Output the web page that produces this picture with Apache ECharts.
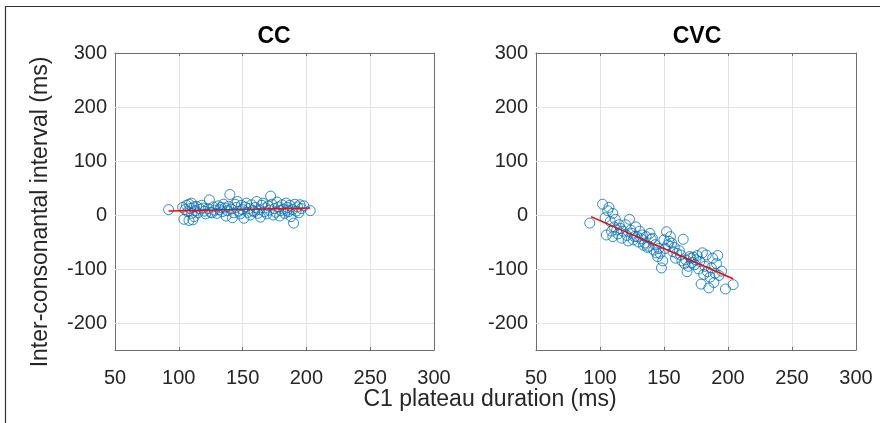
<!DOCTYPE html>
<html>
<head>
<meta charset="utf-8">
<script src="https://cdn.jsdelivr.net/npm/echarts@6/dist/echarts.min.js"></script>
<style>
html,body{margin:0;padding:0;background:#fff;}
#chart{width:880px;height:423px;}
</style>
</head>
<body>
<div id="chart"></div>
<script>
// ---- data ----
const panelTitles = ['CC', 'CVC'];
const xTicks = [50, 100, 150, 200, 250, 300];
const yTicks = [-200, -100, 0, 100, 200, 300];

const ccDuration = [92,103,104,106,107,108,109,110,110,111,112,113,115,117,118,120,121,123,124,125,127,128,130,131,132,134,135,136,137,138,139,140,141,142,143,144,145,146,147,148,149,150,151,152,153,154,155,156,157,158,160,161,162,163,164,165,166,167,168,169,170,171,172,173,174,175,176,177,178,179,180,181,182,183,184,185,186,187,188,189,190,191,192,193,195,196,198,203,105,108,112,114,119,126,133,159,185,194];
const ccInterval = [10,14,-8,18,6,-10,12,22,3,-9,15,8,4,11,18,7,2,12,28,5,15,9,3,17,10,6,20,13,-2,8,16,38,11,-5,4,20,14,25,7,2,18,10,-6,15,22,5,12,0,19,8,14,25,3,10,-4,18,22,6,13,2,17,9,35,20,0,12,5,24,15,-2,8,19,11,3,22,14,6,18,-3,10,-15,20,7,15,19,12,17,8,10,20,-3,16,13,4,14,6,9,4];

const cvcDuration = [92,102,104,105,106,107,108,109,110,110,111,112,113,114,115,116,117,118,120,121,122,123,124,125,126,127,128,129,130,131,132,133,134,135,136,137,138,139,140,141,142,143,144,145,146,147,148,149,150,151,152,153,154,155,156,157,158,159,160,162,163,164,165,166,167,168,169,170,171,172,173,174,175,176,177,178,179,180,181,182,183,184,185,186,187,188,189,190,191,192,193,195,198,204];
const cvcInterval = [-15,20,-5,-37,8,14,-12,-30,3,-40,-22,-8,-28,-35,-18,-25,-43,-30,-18,-38,-48,-8,-28,-34,-46,-40,-22,-40,-50,-30,-44,-37,-56,-52,-40,-60,-58,-34,-45,-43,-65,-55,-70,-77,-62,-71,-98,-85,-46,-62,-31,-55,-49,-40,-52,-68,-60,-80,-71,-66,-74,-85,-45,-90,-83,-105,-95,-77,-80,-88,-78,-92,-83,-75,-100,-86,-128,-70,-110,-95,-74,-105,-135,-115,-98,-80,-125,-108,-90,-75,-112,-104,-137,-129];

const ccFitX = [92, 203];
const ccFitY = [7.5, 13];
const cvcFitX = [93, 204];
const cvcFitY = [-3, -118];

// ---- build ----
const zip = (a, b) => a.map((v, i) => [v, b[i]]);
const FONT = '"Liberation Sans", Arial, Helvetica, sans-serif';
const TXT = '#262626';
const AX = '#6e6e6e';

const grids = [
  {left: 115, top: 53, width: 319, height: 297, show: false},
  {left: 536, top: 53, width: 320, height: 297, show: false}
];

const xAxes = [], yAxes = [];
[0, 1].forEach(g => {
  xAxes.push({
    type: 'value', gridIndex: g, min: 50, max: 300, interval: 50, position: 'bottom',
    axisLine: {show: true, onZero: false, lineStyle: {color: AX, width: 1}},
    axisTick: {show: true, inside: true, length: 3, lineStyle: {color: AX}},
    axisLabel: {color: TXT, fontSize: 20, fontFamily: FONT, margin: 18},
    splitLine: {show: true, lineStyle: {color: '#e3e3e3', width: 1}}
  });
  xAxes.push({
    type: 'value', gridIndex: g, min: 50, max: 300, interval: 50, position: 'top',
    axisLine: {show: true, onZero: false, lineStyle: {color: AX, width: 1}},
    axisTick: {show: true, inside: true, length: 3, lineStyle: {color: AX}},
    axisLabel: {show: false}, splitLine: {show: false}
  });
  yAxes.push({
    type: 'value', gridIndex: g, min: -250, max: 300, position: 'left',
    axisLine: {show: true, onZero: false, lineStyle: {color: AX, width: 1}},
    axisTick: {show: true, inside: true, length: 3, lineStyle: {color: AX}, customValues: yTicks},
    axisLabel: {color: TXT, fontSize: 20, fontFamily: FONT, margin: 8, customValues: yTicks},
    splitLine: {show: false}
  });
  yAxes.push({
    type: 'value', gridIndex: g, min: -250, max: 300, position: 'right',
    axisLine: {show: true, onZero: false, lineStyle: {color: AX, width: 1}},
    axisTick: {show: true, inside: true, length: 3, lineStyle: {color: AX}, customValues: yTicks},
    axisLabel: {show: false}, splitLine: {show: false}
  });
});

const hLines = yTicks.filter(v => v > -250 && v < 300).map(v => ({yAxis: v}));

function scatter(g, xs, ys) {
  return {
    type: 'scatter', xAxisIndex: g * 2, yAxisIndex: g * 2, data: zip(xs, ys),
    symbol: 'circle', symbolSize: 10,
    itemStyle: {color: 'rgba(0,0,0,0)', borderColor: '#0072BD', borderWidth: 1},
    silent: true, z: 3,
    markLine: {
      silent: true, symbol: 'none', label: {show: false},
      lineStyle: {color: '#e3e3e3', width: 1, type: 'solid'},
      data: hLines, z: 1
    }
  };
}
function fit(g, xs, ys) {
  return {
    type: 'line', xAxisIndex: g * 2, yAxisIndex: g * 2, data: zip(xs, ys),
    symbol: 'none', lineStyle: {color: '#ff0000', width: 1.6}, silent: true, z: 4
  };
}

const chart = echarts.init(document.getElementById('chart'), null, {renderer: 'canvas'});
chart.setOption({
  backgroundColor: '#ffffff',
  animation: false,
  grid: grids,
  xAxis: xAxes,
  yAxis: yAxes,
  series: [
    scatter(0, ccDuration, ccInterval),
    fit(0, ccFitX, ccFitY),
    scatter(1, cvcDuration, cvcInterval),
    fit(1, cvcFitX, cvcFitY)
  ],
  graphic: [
    {type: 'polyline', shape: {points: [[5.5, 430], [5.5, 6.5], [890, 6.5]]},
     style: {stroke: '#333', lineWidth: 1.2, fill: null}},
    {type: 'text', x: 274, y: 37, style: {text: panelTitles[0], font: 'bold 23px ' + FONT, fill: '#000', textAlign: 'center', textVerticalAlign: 'middle'}},
    {type: 'text', x: 697, y: 37, style: {text: panelTitles[1], font: 'bold 23px ' + FONT, fill: '#000', textAlign: 'center', textVerticalAlign: 'middle'}},
    {type: 'text', x: 490, y: 400, style: {text: 'C1 plateau duration (ms)', font: '23px ' + FONT, fill: TXT, textAlign: 'center', textVerticalAlign: 'middle'}},
    {type: 'text', x: 41, y: 212, rotation: Math.PI / 2,
     style: {text: 'Inter-consonantal interval (ms)', font: '23px ' + FONT, fill: TXT, textAlign: 'center', textVerticalAlign: 'middle'}}
  ]
});
</script>
</body>
</html>
